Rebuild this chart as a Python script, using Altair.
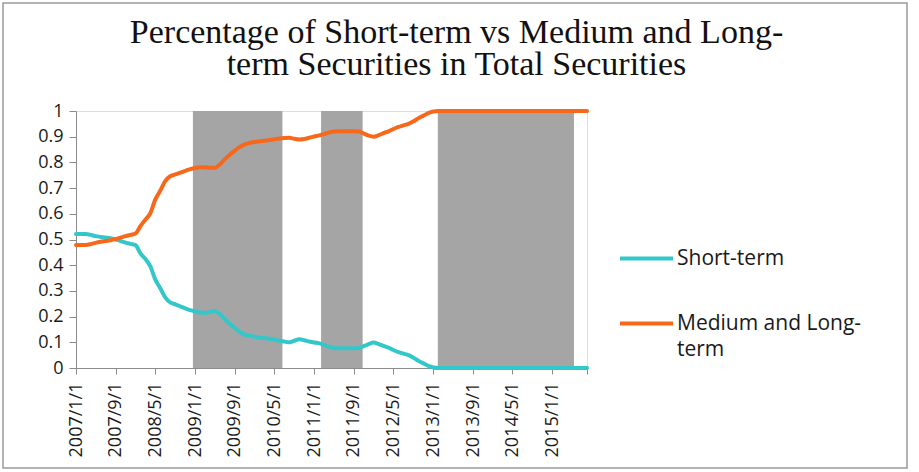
import altair as alt
import pandas as pd

# Monthly observations, 2007/1 .. 2015/8
months = pd.date_range("2007-01-01", periods=104, freq="MS")

short_term = [
    0.521, 0.521, 0.521, 0.518, 0.513, 0.510, 0.508, 0.505, 0.500, 0.494,
    0.488, 0.483, 0.478, 0.445, 0.425, 0.395, 0.345, 0.310, 0.275, 0.255,
    0.248, 0.240, 0.232, 0.225, 0.220, 0.216, 0.214, 0.218, 0.222, 0.210,
    0.190, 0.172, 0.155, 0.140, 0.130, 0.125, 0.122, 0.118, 0.116, 0.114,
    0.110, 0.106, 0.103, 0.100, 0.106, 0.112, 0.108, 0.103, 0.099, 0.096,
    0.090, 0.083, 0.078, 0.077, 0.077, 0.077, 0.077, 0.078, 0.085, 0.093,
    0.099, 0.093, 0.086, 0.079, 0.070, 0.062, 0.056, 0.050, 0.040, 0.028,
    0.018, 0.008, 0.002, 0.000, 0.000, 0.000, 0.000, 0.000, 0.000, 0.000,
    0.000, 0.000, 0.000, 0.000, 0.000, 0.000, 0.000, 0.000, 0.000, 0.000,
    0.000, 0.000, 0.000, 0.000, 0.000, 0.000, 0.000, 0.000, 0.000, 0.000,
    0.000, 0.000, 0.000, 0.000,
]

medium_long_term = [
    0.479, 0.479, 0.479, 0.482, 0.487, 0.491, 0.494, 0.497, 0.502, 0.507,
    0.513, 0.518, 0.523, 0.553, 0.577, 0.603, 0.655, 0.690, 0.727, 0.746,
    0.753, 0.760, 0.767, 0.774, 0.778, 0.781, 0.781, 0.779, 0.779, 0.792,
    0.812, 0.830, 0.846, 0.860, 0.870, 0.876, 0.879, 0.882, 0.884, 0.887,
    0.890, 0.893, 0.895, 0.896, 0.892, 0.889, 0.891, 0.896, 0.901, 0.905,
    0.910, 0.916, 0.920, 0.921, 0.921, 0.921, 0.921, 0.920, 0.912, 0.904,
    0.900, 0.906, 0.914, 0.921, 0.930, 0.938, 0.944, 0.950, 0.960, 0.972,
    0.982, 0.992, 0.998, 1.000, 1.000, 1.000, 1.000, 1.000, 1.000, 1.000,
    1.000, 1.000, 1.000, 1.000, 1.000, 1.000, 1.000, 1.000, 1.000, 1.000,
    1.000, 1.000, 1.000, 1.000, 1.000, 1.000, 1.000, 1.000, 1.000, 1.000,
    1.000, 1.000, 1.000, 1.000,
]

series_names = ["Short-term", "Medium and Long-term"]
series_colors = ["#33C7C9", "#F7681A"]

# Shaded periods
shade_start = ["2008-12-18", "2011-02-12", "2013-01-28"]
shade_end = ["2010-06-20", "2011-10-25", "2015-05-13"]

tick_dates = [(2007 + (m // 12), m % 12 + 1) for m in range(0, 97, 8)] + [(2015, 8)]

lines_df = pd.concat([
    pd.DataFrame({"date": months, "value": short_term, "series": series_names[0]}),
    pd.DataFrame({"date": months, "value": medium_long_term, "series": series_names[1]}),
])
shade_df = pd.DataFrame({
    "start": pd.to_datetime(shade_start),
    "end": pd.to_datetime(shade_end),
    "lo": 0.0,
    "hi": 1.0,
})

x_scale = alt.Scale(domain=[alt.DateTime(year=2007, month=1, date=1),
                            alt.DateTime(year=2015, month=8, date=1)], nice=False)
y_scale = alt.Scale(domain=[0, 1], nice=False)

x_axis = alt.Axis(
    title=None,
    values=[alt.DateTime(year=y, month=m, date=1) for y, m in tick_dates],
    labelExpr="(year(datum.value) == 2015 && month(datum.value) == 7) ? '' : timeFormat(datum.value, '%Y/%-m/%-d')",
    labelAngle=-90,
    labelFont="Open Sans",
    labelFontSize=18,
    labelColor="#1a1a1a",
    labelPadding=8,
    tickSize=6,
    tickColor="#8c8c8c",
    domainColor="#8c8c8c",
    grid=False,
    labelOverlap=False,
)
y_axis = alt.Axis(
    title=None,
    values=[i / 10 for i in range(11)],
    format=".1~f",
    labelFont="Open Sans",
    labelFontSize=18,
    labelColor="#1a1a1a",
    labelPadding=6,
    tickSize=7,
    tickColor="#8c8c8c",
    domainColor="#8c8c8c",
    grid=False,
)

shade = alt.Chart(shade_df).mark_rect(color="#A5A5A5", opacity=1).encode(
    x=alt.X("start:T", scale=x_scale, axis=x_axis),
    x2="end:T",
    y=alt.Y("hi:Q", scale=y_scale, axis=y_axis),
    y2="lo:Q",
)

lines = alt.Chart(lines_df).mark_line(
    strokeWidth=4, interpolate="monotone", strokeCap="round"
).encode(
    x=alt.X("date:T", scale=x_scale, axis=x_axis),
    y=alt.Y("value:Q", scale=y_scale, axis=y_axis),
    color=alt.Color(
        "series:N",
        scale=alt.Scale(domain=series_names, range=series_colors),
        sort=series_names,
        legend=alt.Legend(
            title=None,
            orient="none",
            legendX=542,
            legendY=119,
            padding=0,
            symbolType="stroke",
            symbolSize=2809,
            symbolStrokeWidth=4,
            labelFont="Open Sans",
            labelFontSize=21,
            labelColor="#1a1a1a",
            labelOffset=2,
            labelLimit=400,
            rowPadding=26,
            labelExpr="datum.label == 'Medium and Long-term' ? ['Medium and Long-', 'term'] : datum.label",
        ),
    ),
)

# Frame drawn around the whole figure
frame = alt.Chart(pd.DataFrame({"k": [0]})).mark_rect(
    fill=None, stroke="#9a9a9a", strokeWidth=1.5
).encode(
    x=alt.value(-73), x2=alt.value(831), y=alt.value(-108), y2=alt.value(357)
)

chart = alt.layer(shade, lines, frame).properties(
    width=511,
    height=257,
    padding={"left": 76, "top": 111, "right": 332, "bottom": 104},
    autosize="none",
    title=alt.Title(
        ["Percentage  of Short-term vs Medium and Long-", "term Securities in Total Securities"],
        font="Liberation Serif",
        fontSize=34,
        fontWeight="normal",
        lineHeight=32,
        color="#111111",
        anchor="middle",
        frame="group",
        dx=125,
        dy=80,
        offset=0,
    ),
).configure_view(stroke=None).configure(
    background="white", style={"guide-label": {"lineHeight": 26}}
)

chart.save("out.html", embed_options={"renderer": "svg", "actions": False})
